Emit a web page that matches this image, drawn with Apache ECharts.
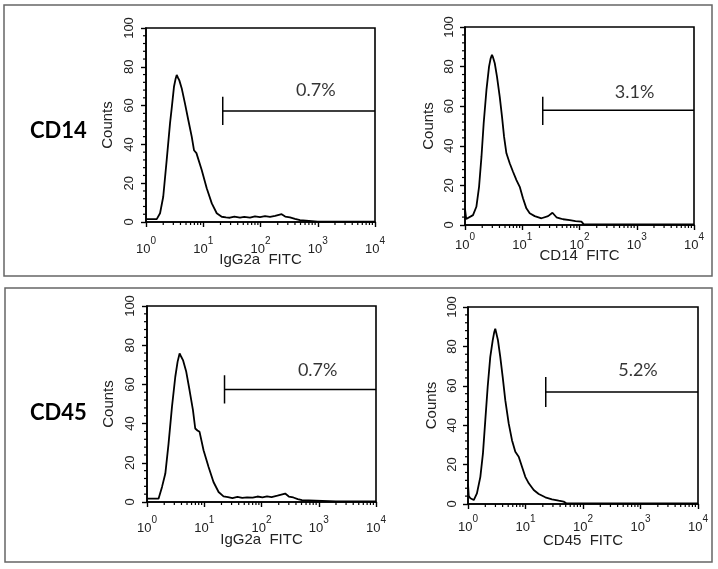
<!DOCTYPE html>
<html>
<head>
<meta charset="utf-8">
<script src="https://cdn.jsdelivr.net/npm/echarts@6/dist/echarts.min.js"></script>
<style>html,body{margin:0;padding:0;background:#fff}#c{width:718px;height:569px}</style>
</head>
<body>
<div id="c"></div>
<script>
// ---------- data ----------
const rowLabels = ['CD14', 'CD45'];
const xAxisNames = ['IgG2a  FITC', 'CD14  FITC', 'IgG2a  FITC', 'CD45  FITC'];
const xTickExp = ['0', '1', '2', '3', '4'];
const xMinorTicks = [2,3,4,5,6,7,8,9,20,30,40,50,60,70,80,90,200,300,400,500,600,700,800,900,2000,3000,4000,5000,6000,7000,8000,9000];
const yMinorTicks = [4,8,12,16,24,28,32,36,44,48,52,56,64,68,72,76,84,88,92,96];
const pctLabels = ['0.7%', '3.1%', '0.7%', '5.2%'];
const pctPos = [[925, 67.7], [915, 67.3], [957, 67.3], [905, 67.9]];
const gateStart = [21.9, 22.8, 22.6, 22.5];
const gateLevel = [57.2, 58, 57.4, 56.9];
const gateLow = [50, 50.5, 50.3, 49.3];
const gateHigh = [64.6, 64.8, 64.7, 64.5];

const isoCD14 = [[1,1.5],[1.54,1.5],[1.76,4.5],[2.0,13],[2.3,32],[2.63,51],[2.81,58.6],[3.08,69.7],[3.3,74],[3.44,75.8],[3.6,74.5],[3.82,73],[4.2,69],[4.8,61],[5.48,52.6],[6.29,44],[6.89,37],[7.6,35.5],[8.2,34.5],[9.4,26.8],[11.5,17.4],[14.1,9.6],[17.2,4.5],[21,2.7],[25,2.4],[29.3,2.2],[35,2.8],[43.8,2.2],[52,2.6],[65.6,2.3],[80,2.9],[98,2.5],[120,3.0],[146.6,2.6],[180,3.1],[234,4.0],[270,2.8],[327,2.4],[400,1.6],[490,1.0],[531,0.3],[1000,0.2],[3000,0.2],[10000,0.2]];
const cd14 = [[1,8],[1.05,3],[1.13,2.5],[1.38,5],[1.58,9.2],[1.76,19.3],[1.94,34.5],[2.12,51.4],[2.37,68.2],[2.63,80],[2.8,84],[2.96,85.9],[3.1,84.5],[3.31,81.7],[3.62,74.9],[4.04,64.8],[4.43,54.7],[4.81,44.6],[5.29,36.2],[6.04,31.2],[6.9,26.9],[7.92,22.7],[9.04,19.3],[10.3,13.5],[11.8,8.4],[13.5,5.9],[16.5,4.5],[21.7,3.4],[28.3,4.5],[33.7,6.2],[39.6,3.9],[45.3,3.4],[51.7,2.9],[67.6,2.5],[85,2.0],[108,1.7],[119,0.3],[1000,0.3],[10000,0.3]];
const isoCD45 = [[1,1.7],[1.59,1.7],[1.83,7.7],[2.09,14.5],[2.38,29.8],[2.73,48.5],[3.12,63.9],[3.42,71.5],[3.71,75.8],[3.9,74.5],[4.25,72.4],[4.85,66.4],[5.54,57],[6.35,46.9],[6.96,37.5],[7.6,36.5],[8.28,35.8],[9.72,26.4],[11.9,17.9],[14.5,10.2],[17.8,5.1],[21.7,2.9],[26,2.5],[31,2.0],[38,2.6],[46,2.1],[56,2.4],[70,2.2],[85,2.8],[104,2.4],[125,2.9],[150,2.5],[190,3.2],[259,4.3],[300,2.8],[360,2.3],[430,1.5],[507,0.9],[530,0.3],[2000,0.3],[10000,0.3]];
const cd45 = [[1,10],[1.03,4],[1.10,2.9],[1.26,2.0],[1.43,5.4],[1.64,13.8],[1.82,25.7],[2.0,42.6],[2.2,59.5],[2.44,74.7],[2.69,83.1],[2.85,87],[2.98,89],[3.15,86],[3.32,83.1],[3.64,74.7],[4.01,64.5],[4.45,52.7],[5.1,40.9],[5.82,32.4],[6.65,26.5],[7.62,24],[8.69,18.9],[9.92,13.8],[11.4,10.5],[13.9,7.1],[17,5.1],[22.1,3.4],[28.9,2.4],[37.8,1.7],[46.1,1.2],[51.2,0.4],[1000,0.3],[10000,0.3]];
const curves = [isoCD14, cd14, isoCD45, cd45];

// ---------- layout ----------
const grids = [
  {left: 146, top: 28, width: 229, height: 194},
  {left: 465, top: 27, width: 229, height: 198},
  {left: 147, top: 306, width: 229, height: 196},
  {left: 468, top: 307, width: 230, height: 197}
];
const yLabelMargin = [10.5, 9, 10.5, 9];
const yNameGap = [30.5, 28.5, 30.5, 28.5];
const xLabelMargin = [14, 7, 13, 10];
const xNameGap = [30, 23.5, 30.5, 29];
const minorLen = 3;

const axisFont = 'Liberation Sans';
const option = {
  animation: false,
  backgroundColor: '#fff',
  title: rowLabels.map((t, i) => ({
    text: t, left: 25, top: i === 0 ? 115 : 397,
    textStyle: {fontFamily: 'Lato', fontWeight: 'bold', fontSize: 22, color: '#000'}
  })),
  graphic: [
    {type: 'rect', shape: {x: 4, y: 5, width: 708, height: 271}, style: {fill: null, stroke: '#666', lineWidth: 1.5}, silent: true},
    {type: 'rect', shape: {x: 5, y: 288, width: 707, height: 274}, style: {fill: null, stroke: '#666', lineWidth: 1.5}, silent: true}
  ],
  grid: grids.map(g => Object.assign({show: true, borderColor: '#000', borderWidth: 1.6}, g)),
  xAxis: [],
  yAxis: [],
  series: []
};

grids.forEach((g, i) => {
  option.xAxis.push({
    type: 'log', logBase: 10, min: 1, max: 10000, splitNumber: 4, gridIndex: i,
    name: xAxisNames[i], nameLocation: 'middle', nameGap: xNameGap[i], nameMoveOverlap: false,
    nameTextStyle: {fontFamily: axisFont, fontSize: 15, color: '#222'},
    axisLine: {show: true, lineStyle: {color: '#000', width: 1.6}},
    axisTick: {show: true, inside: false, length: 5, lineStyle: {color: '#000', width: 1.4}},
    splitLine: {show: false},
    axisLabel: {
      margin: xLabelMargin[i], color: '#222', fontFamily: axisFont,
      formatter: (v, idx) => '{b|10}{s|' + xTickExp[idx] + '}',
      rich: {
        b: {fontSize: 13, fontFamily: axisFont, color: '#222', lineHeight: 20, verticalAlign: 'bottom'},
        s: {fontSize: 10, fontFamily: axisFont, color: '#222', lineHeight: 20, verticalAlign: 'top'}
      }
    }
  });
  option.yAxis.push({
    type: 'value', min: 0, max: 100, interval: 20, gridIndex: i,
    name: 'Counts', nameLocation: 'middle', nameGap: yNameGap[i], nameMoveOverlap: false,
    nameTextStyle: {fontFamily: axisFont, fontSize: 15, color: '#222'},
    axisLine: {show: true, lineStyle: {color: '#000', width: 1.6}},
    axisTick: {show: true, inside: false, length: 5, lineStyle: {color: '#000', width: 1.4}},
    splitLine: {show: false},
    axisLabel: {rotate: 90, margin: yLabelMargin[i], fontFamily: axisFont, fontSize: 13, color: '#222'}
  });
});

// minor tick marks, placed through each plot's own axes
function xMinorTickItem(params, api) {
  const p = api.coord([api.value(0), 0]);
  return {type: 'line', shape: {x1: p[0], y1: p[1], x2: p[0], y2: p[1] + minorLen},
          style: {stroke: '#000', lineWidth: 1.2}};
}
function yMinorTickItem(params, api) {
  const p = api.coord([1, api.value(0)]);
  return {type: 'line', shape: {x1: p[0] - minorLen, y1: p[1], x2: p[0], y2: p[1]},
          style: {stroke: '#000', lineWidth: 1.2}};
}

curves.forEach((d, i) => {
  option.series.push({
    type: 'line', xAxisIndex: i, yAxisIndex: i, data: d,
    showSymbol: false, symbol: 'none', smooth: false,
    lineStyle: {color: '#000', width: 1.8}
  });
  option.series.push({
    type: 'line', xAxisIndex: i, yAxisIndex: i,
    data: [[gateStart[i], gateLow[i]], [gateStart[i], gateHigh[i]], [gateStart[i], gateLevel[i]], [10000, gateLevel[i]]],
    showSymbol: false, symbol: 'none',
    lineStyle: {color: '#000', width: 1.5}
  });
  option.series.push({
    type: 'scatter', xAxisIndex: i, yAxisIndex: i, data: [pctPos[i]],
    symbolSize: 0, silent: true,
    label: {show: true, position: 'inside', formatter: pctLabels[i], fontFamily: 'Lato', fontSize: 18, color: '#000'}
  });
  option.series.push({
    type: 'custom', xAxisIndex: i, yAxisIndex: i, clip: false, silent: true,
    data: xMinorTicks.map(v => [v, 0]), encode: {x: 0, y: 1},
    renderItem: xMinorTickItem
  });
  option.series.push({
    type: 'custom', xAxisIndex: i, yAxisIndex: i, clip: false, silent: true,
    data: yMinorTicks.map(v => [v]), encode: {y: 0},
    renderItem: yMinorTickItem
  });
});

const chart = echarts.init(document.getElementById('c'), null, {renderer: 'canvas'});
chart.setOption(option);
</script>
</body>
</html>
